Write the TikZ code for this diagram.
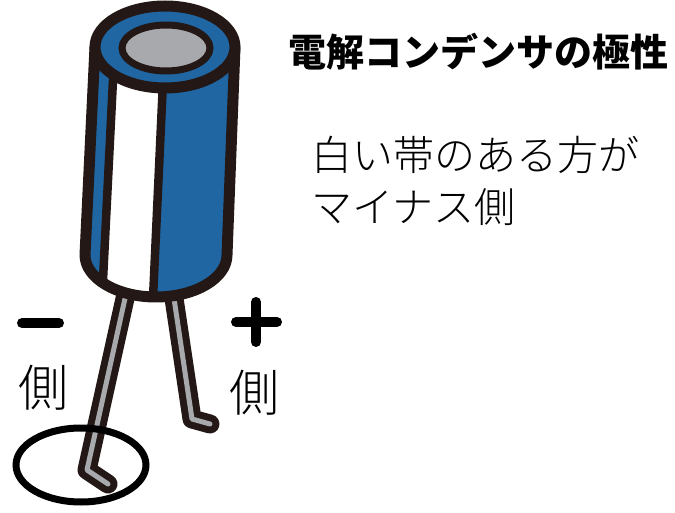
\documentclass[tikz,border=0pt]{standalone}
\usepackage{fontspec}
\newfontfamily\jpfont{Noto Sans CJK JP Light}
\newfontfamily\jpbold{Noto Sans CJK JP Black}
\definecolor{capblue}{HTML}{1F66A3}
\definecolor{inkblack}{HTML}{231815}
\definecolor{leadgrey}{HTML}{A7A9AC}
\begin{document}
\begin{tikzpicture}[x=1pt,y=-1pt,
  outline/.style={draw=inkblack,line width=11pt,line join=round},
  leadout/.style={draw=inkblack,line width=19pt,line cap=round,line join=round},
  leadin/.style={draw=leadgrey,line width=5pt,line cap=round,line join=round},
  sign/.style={draw=black,line width=10pt,line cap=round},
  bodytext/.style={anchor=west,inner sep=0pt,font=\jpfont\fontsize{41}{41}\selectfont},
  sidetext/.style={inner sep=0pt,font=\jpfont\fontsize{50}{50}\selectfont}]
\useasboundingbox (0,0) rectangle (675,513);

% leads (behind the can)
\draw[leadout] (128,285) -- (87,470) -- (108,484);
\draw[leadin]  (128,285) -- (87,470) -- (108,484);
\draw[leadout] (172,285) -- (192,419) -- (210,424);
\draw[leadin]  (172,285) -- (192,419) -- (210,424);

% can body
\def\canbody{(95,47) -- (85,255) arc[start angle=180,end angle=0,x radius=71,y radius=42] -- (235,47) -- cycle}
\fill[capblue] \canbody;
\begin{scope}
  \clip \canbody;
  \fill[white] (114,60) -- (164,60) -- (152,320) -- (101,320) -- cycle;
  \draw[inkblack,line width=8.5pt] (114,60) -- (101,320);
  \draw[inkblack,line width=8.5pt] (164,60) -- (152,320);
\end{scope}
\draw[outline] \canbody;

% top face
\draw[outline,fill=capblue] (165,47) ellipse[x radius=70,y radius=41];
\draw[inkblack,line width=7pt,fill=leadgrey] (166,48) ellipse[x radius=44,y radius=23];

% highlight ring around the negative lead end
\draw[black,line width=7pt] (81,465) ellipse[x radius=65,y radius=37];

% polarity marks
\draw[sign] (22,323) -- (59,323);
\draw[sign] (236,322) -- (277,322);
\draw[sign] (256,302) -- (256,342);
\node[sidetext] (minusside) at (43,388) {側};
\node[sidetext] (plusside) at (254,393) {側};

% text
\node[anchor=west,inner sep=0pt,font=\jpbold\fontsize{38}{38}\selectfont] (title) at (288,52) {電解コンデンサの極性};
\node[bodytext] (line1) at (311,155) {白い帯のある方が};
\node[bodytext] (line2) at (311,207) {マイナス側};
\end{tikzpicture}
\end{document}
